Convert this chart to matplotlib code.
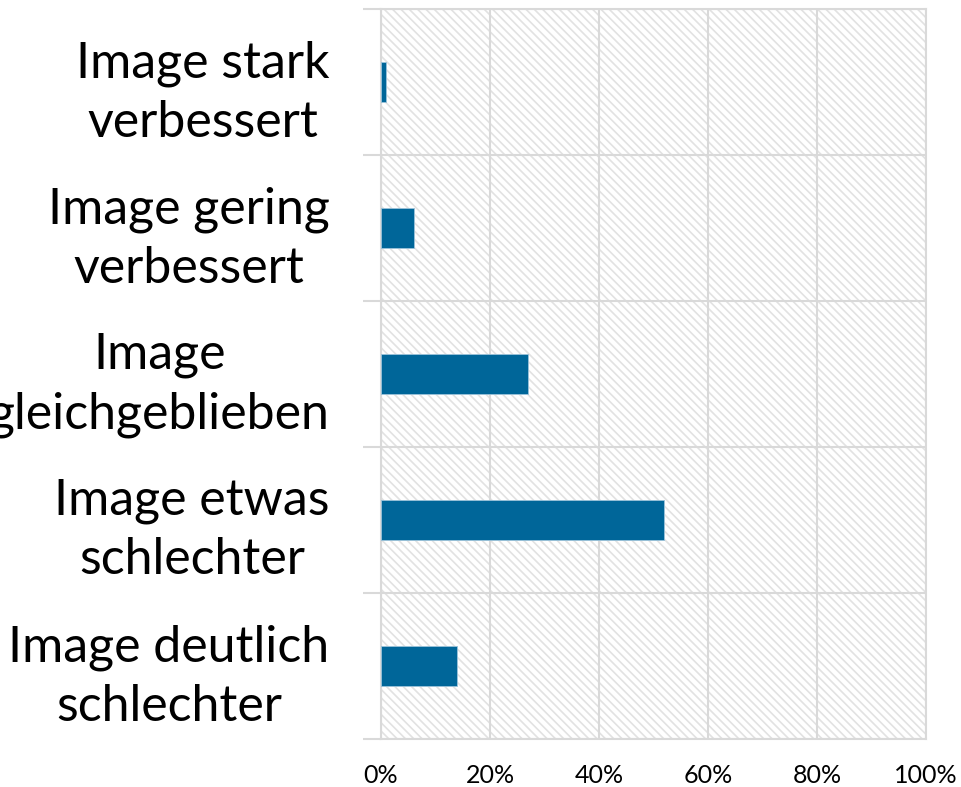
import matplotlib.pyplot as plt
from matplotlib.patches import Rectangle
from matplotlib.ticker import FixedLocator, PercentFormatter

categories = ['Image stark\nverbessert', 'Image gering\nverbessert', 'Image\ngleichgeblieben',
              'Image etwas\nschlechter', 'Image deutlich\nschlechter']
values = [1, 6, 27, 52, 14]
x_ticks = [0, 20, 40, 60, 80, 100]

grid_col = '#D9D9D9'
bar_col = '#006699'

plt.rcParams['font.family'] = ['Lato', 'DejaVu Sans']
plt.rcParams['hatch.linewidth'] = 1.2
plt.rcParams['hatch.color'] = '#E2E2E2'

fig = plt.figure(figsize=(9.61, 7.87), dpi=100)
ax = fig.add_axes([381 / 961, 1 - 739 / 787, 545 / 961, 730 / 787])

ypos = list(range(len(categories)))
ax.barh(ypos, values, height=0.28, color=bar_col, edgecolor='#9CC3DA', linewidth=0.6, zorder=3)

ax.set_xlim(0, 100)
ax.set_ylim(len(categories) - 0.5, -0.5)

# hatched background (downward diagonal)
ax.add_patch(Rectangle((0, 0), 1, 1, transform=ax.transAxes, facecolor='white',
                       edgecolor='#E2E2E2', hatch='\\\\\\\\', linewidth=0, zorder=0))

ax.set_xticks(x_ticks)
ax.xaxis.set_major_formatter(PercentFormatter(decimals=0))
ax.tick_params(axis='x', length=0, pad=18, labelsize=18)
ax.xaxis.grid(True, color=grid_col, linewidth=1.5, zorder=1)
ax.set_axisbelow(True)

ax.set_yticks(ypos)
ax.set_yticklabels(categories)
ax.tick_params(axis='y', which='major', length=0, pad=37, labelsize=36)
for t in ax.get_yticklabels():
    t.set_multialignment('center')
    t.set_linespacing(1.35)
ax.yaxis.set_minor_locator(FixedLocator([i + 0.5 for i in range(-1, len(categories))]))
ax.tick_params(axis='y', which='minor', length=13, width=1.5, color=grid_col)
ax.yaxis.grid(True, which='minor', color=grid_col, linewidth=1.5)

for s in ax.spines.values():
    s.set_color(grid_col)
    s.set_linewidth(1.5)

plt.savefig('out.png', dpi=100)
